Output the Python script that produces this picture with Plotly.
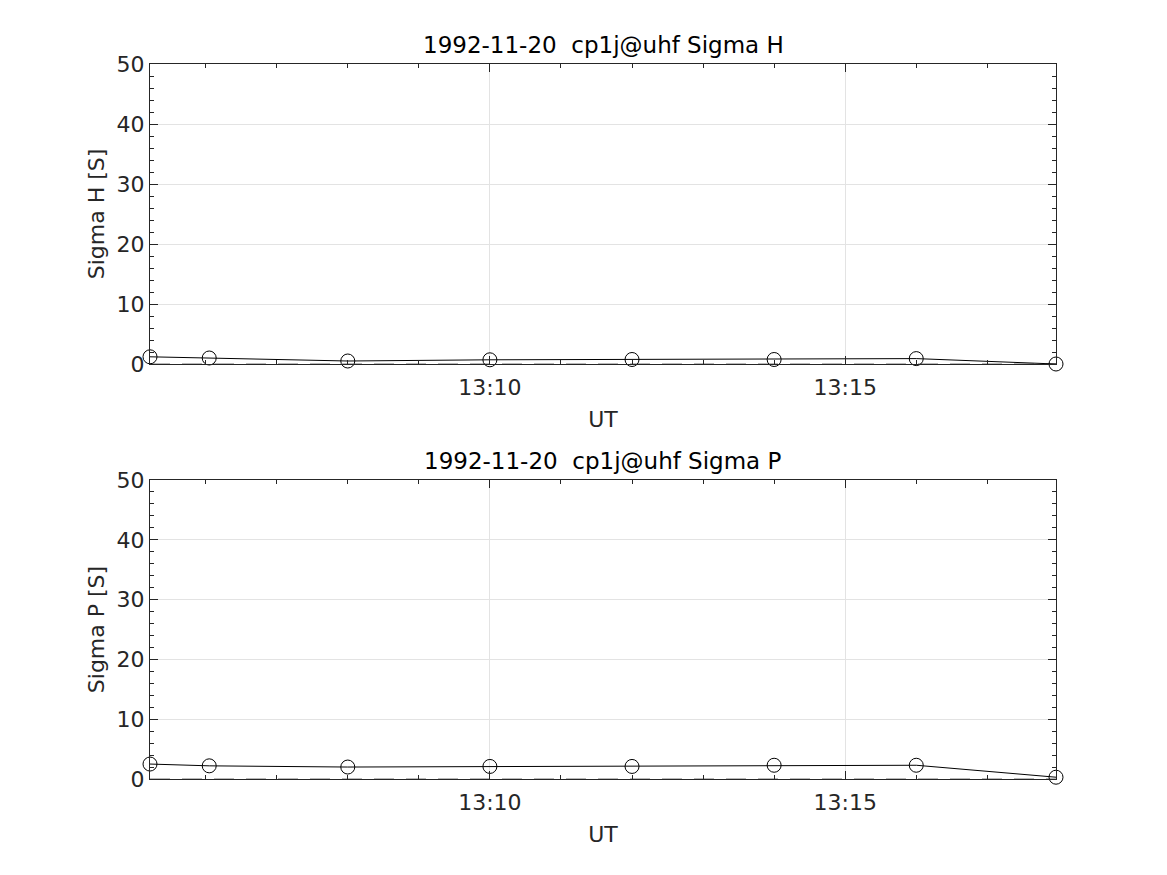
import plotly.graph_objects as go

times = ["1992-11-20 13:05:13", "1992-11-20 13:06:03", "1992-11-20 13:08:00",
         "1992-11-20 13:10:00", "1992-11-20 13:12:00", "1992-11-20 13:14:00",
         "1992-11-20 13:16:00", "1992-11-20 13:17:58"]
sigma_h = [1.2, 1.0, 0.5, 0.7, 0.75, 0.75, 0.9, 0.0]
sigma_p = [2.5, 2.2, 2.0, 2.1, 2.1, 2.3, 2.3, 0.3]
baseline = [0, 0, 0, 0, 0, 0, 0, 0]
titles = ["1992-11-20  cp1j@uhf Sigma H", "1992-11-20  cp1j@uhf Sigma P"]
ylabels = ["Sigma H [S]", "Sigma P [S]"]

W, H = 1151, 859
OFF = 8
L, T = 150 - OFF, 64 - OFF
R = W - (1056 - OFF)
B = H - (779 - OFF)
ph = H - T - B
def frac(py):
    return (H - B - (py - OFF)) / ph

fig = go.Figure()
font = "DejaVu Sans"
tickcol = "#262626"
for i, (vals, yref) in enumerate([(sigma_h, "y"), (sigma_p, "y2")]):
    xref = "x" if i == 0 else "x2"
    fig.add_trace(go.Scatter(x=times, y=baseline, mode="lines", xaxis=xref, yaxis=yref,
                             line=dict(color="#707070", width=1, dash="20px,12px"), showlegend=False))
    fig.add_trace(go.Scatter(x=times, y=vals, mode="lines+markers", xaxis=xref, yaxis=yref,
                             line=dict(color="black", width=1),
                             marker=dict(symbol="circle-open", size=14, color="black",
                                         line=dict(width=1, color="black")),
                             cliponaxis=False, showlegend=False))

doms = [(frac(364), 1.0), (0.0, frac(480))]
axcommon = dict(showline=True, linecolor="#262626", linewidth=1, mirror="allticks",
                ticks="inside", ticklen=8, tickcolor="#262626",
                showgrid=True, gridcolor="#e3e3e3", gridwidth=1, zeroline=False,
                tickfont=dict(family=font, size=22, color=tickcol))
for i in range(2):
    sfx = "" if i == 0 else "2"
    fig.update_layout(**{
        "xaxis" + sfx: dict(axcommon, anchor="y" + sfx, domain=[0, 1], type="date",
                            range=[times[0], times[-1]],
                            dtick=300000, tick0="1992-11-20 13:00:00", tickformat="%H:%M",
                            ticklabelstandoff=4,
                            minor=dict(dtick=60000, tick0="1992-11-20 13:00:00", ticks="inside",
                                       ticklen=4, tickcolor="#262626", showgrid=False),
                            title=dict(text="UT", font=dict(family=font, size=22, color=tickcol),
                                       standoff=12)),
        "yaxis" + sfx: dict(axcommon, anchor="x" + sfx, domain=list(doms[i]), range=[0, 50],
                            dtick=10, tick0=0,
                            minor=dict(dtick=2, ticks="inside", ticklen=4, tickcolor="#262626",
                                       showgrid=False),
                            title=dict(text=ylabels[i], font=dict(family=font, size=22, color=tickcol),
                                       standoff=5)),
    })
    fig.add_annotation(text=titles[i], xref="paper", yref="paper", x=0.5, y=doms[i][1],
                       yshift=4, xanchor="center", yanchor="bottom", showarrow=False,
                       font=dict(family=font, size=23, color="black"))

fig.update_layout(width=W, height=H, margin=dict(l=L, r=R, t=T, b=B),
                  plot_bgcolor="white", paper_bgcolor="white")
fig.write_html("out.html")
